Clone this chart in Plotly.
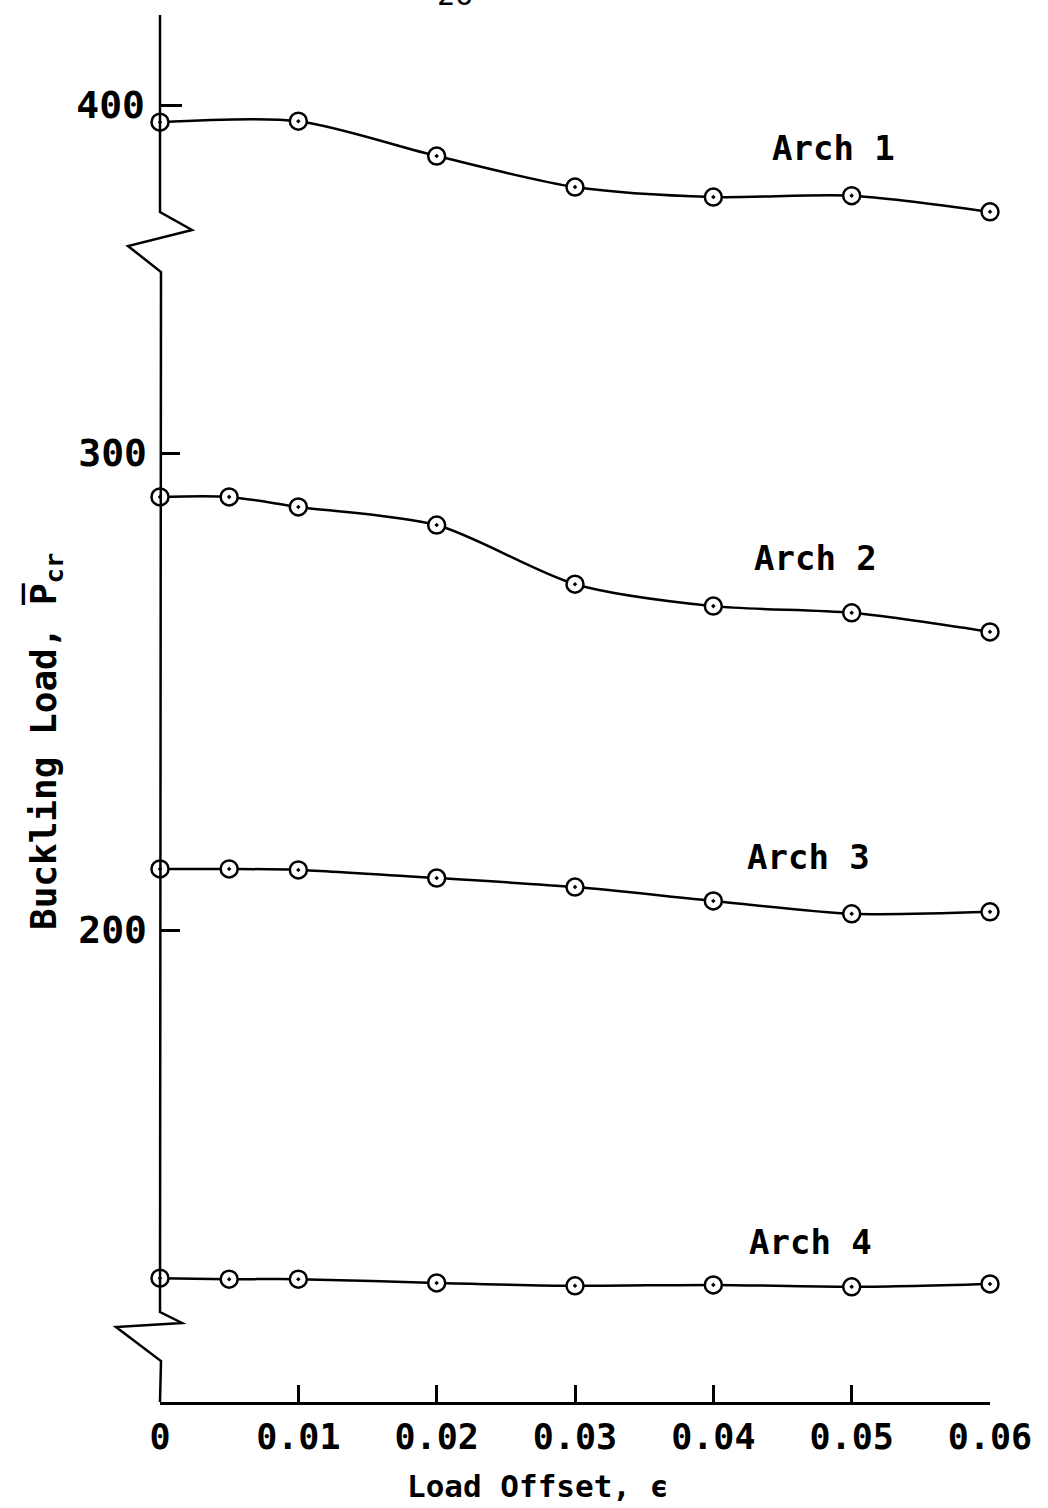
import plotly.graph_objects as go

# ---------------- data ----------------
offset_arch1 = [0.0, 0.01, 0.02, 0.03, 0.04, 0.05, 0.06]
pcr_arch1 = [396.4, 396.6, 389.3, 382.8, 380.7, 381.0, 377.6]

offset_other = [0.0, 0.005, 0.01, 0.02, 0.03, 0.04, 0.05, 0.06]
pcr_arch2 = [290.8, 290.8, 288.7, 284.9, 272.5, 267.9, 266.5, 262.5]
pcr_arch3 = [212.8, 212.8, 212.6, 210.9, 209.0, 206.1, 203.4, 203.8]
pcr_arch4 = [127.0, 126.8, 126.8, 126.0, 125.4, 125.6, 125.2, 125.8]

x_tickvals = [0, 0.01, 0.02, 0.03, 0.04, 0.05, 0.06]
x_ticktext = ["0", "0.01", "0.02", "0.03", "0.04", "0.05", "0.06"]
y_tickvals_low = [200, 300]
y_tickvals_high = [400]
series_labels = ["Arch 1", "Arch 2", "Arch 3", "Arch 4"]

# ---------------- geometry ----------------
W, H = 1048, 1508
L, R, T, B = 160, 990, 15, 1402
FONT = "DejaVu Sans Mono"


def px(xp):
    return (xp - L) / (R - L)


def py(yp):
    return (B - yp) / (B - T)


ppu = 4.77  # pixels per unit of P
split = 240  # pixel row where the upper (broken) segment begins
low_range = [200 - (B - 930) / ppu, 300 + (453 - split) / ppu]
high_range = [400 - (split - 105) / ppu, 400 + (105 - T) / ppu]

line_style = dict(color="black", width=2.5, shape="spline", smoothing=0.8)
marker_style = dict(symbol="circle-dot", size=17, color="white",
                    line=dict(color="black", width=2.5))

fig = go.Figure()
fig.add_trace(go.Scatter(x=offset_arch1, y=pcr_arch1, mode="lines+markers",
                         line=line_style, marker=marker_style, yaxis="y2",
                         name=series_labels[0], cliponaxis=False))
for vals, name in zip([pcr_arch2, pcr_arch3, pcr_arch4], series_labels[1:]):
    fig.add_trace(go.Scatter(x=offset_other, y=vals, mode="lines+markers",
                             line=line_style, marker=marker_style, yaxis="y",
                             name=name, cliponaxis=False))

tickfont = dict(family=FONT, size=38, color="black", weight="bold")

fig.update_layout(
    width=W, height=H,
    margin=dict(l=L, r=W - R, t=T, b=H - B),
    paper_bgcolor="white", plot_bgcolor="white",
    showlegend=False,
    xaxis=dict(range=[0, 0.06], showline=True, linecolor="black", linewidth=2.5,
               ticks="inside", ticklen=17, tickwidth=2.5, tickcolor="black",
               tickvals=x_tickvals, ticktext=x_ticktext,
               tickfont=dict(family=FONT, size=35, color="black", weight="bold"),
               ticklabelstandoff=2,
               showgrid=False, zeroline=False, anchor="y"),
    yaxis=dict(domain=[0, py(split)], range=low_range, showline=False,
               ticks="inside", ticklen=20, tickwidth=2.5, tickcolor="black",
               tickvals=y_tickvals_low, ticktext=[str(v) for v in y_tickvals_low],
               tickfont=tickfont, ticklabelstandoff=12,
               showgrid=False, zeroline=False),
    yaxis2=dict(domain=[py(split), 1], range=high_range, showline=False,
                ticks="inside", ticklen=22, tickwidth=2.5, tickcolor="black",
                tickvals=y_tickvals_high, ticktext=[str(v) for v in y_tickvals_high],
                tickfont=tickfont, ticklabelstandoff=14,
                showgrid=False, zeroline=False, anchor="x"),
)

# broken vertical axis with zig-zag break marks
pts = [(160, T), (160, 212), (192, 230), (128, 246), (161, 272),
       (160, 1312), (182, 1323), (116, 1327), (161, 1361), (160, B)]
path = "M " + " L ".join(f"{px(a):.5f},{py(b):.5f}" for a, b in pts)
fig.add_shape(type="path", path=path, xref="paper", yref="paper",
              line=dict(color="black", width=2.5), layer="above")

# series labels
label_pos = [(833, 148), (815, 558), (808, 857), (810, 1242)]
for text, (a, b) in zip(series_labels, label_pos):
    fig.add_annotation(text=text, x=px(a), y=py(b), xref="paper", yref="paper",
                       showarrow=False, xanchor="center", yanchor="middle",
                       font=dict(family=FONT, size=34, color="black", weight="bold"))

# axis titles
fig.add_annotation(text="Buckling Load, P\u0305<sub>cr</sub>", x=px(45), y=py(742),
                   xref="paper", yref="paper", showarrow=False, textangle=-90,
                   xanchor="center", yanchor="middle",
                   font=dict(family=FONT, size=36, color="black", weight="bold"))
fig.add_annotation(text="Load Offset, \u03f5", x=px(537), y=py(1486),
                   xref="paper", yref="paper", showarrow=False,
                   xanchor="center", yanchor="middle",
                   font=dict(family=FONT, size=31, color="black", weight="bold"))
# page number (cut off at the top of the scan)
fig.add_annotation(text="26", x=px(455), y=py(-6), xref="paper", yref="paper",
                   showarrow=False, xanchor="center", yanchor="middle",
                   font=dict(family=FONT, size=30, color="black"))

fig.write_html("out.html", config={"displayModeBar": False},
               post_script="document.body.style.margin='0';"
                           "document.body.style.overflow='hidden';")
